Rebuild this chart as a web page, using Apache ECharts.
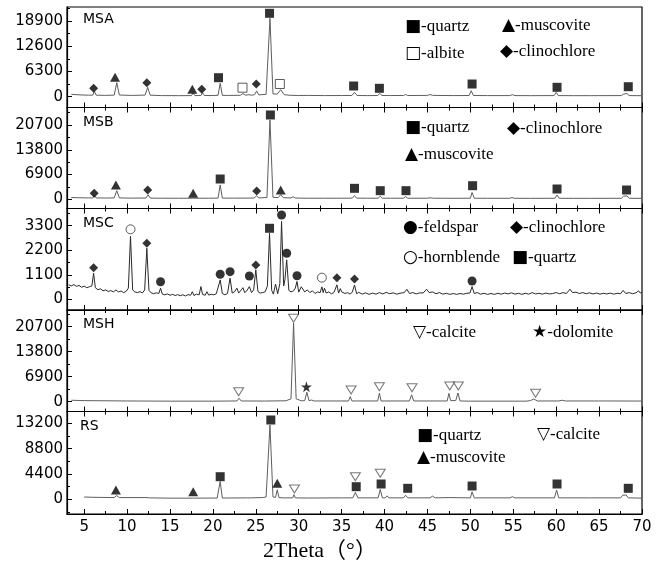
<!DOCTYPE html>
<html><head><meta charset="utf-8">
<script src="https://cdn.jsdelivr.net/npm/echarts@6/dist/echarts.min.js"></script>
<style>html,body{margin:0;padding:0;background:#fff}#c{width:666px;height:566px}</style>
</head><body><div id="c"></div>
<script>
// ---------- tick values ----------
const xTicks = [5,10,15,20,25,30,35,40,45,50,55,60,65,70];
const xMinor = [7.5,12.5,17.5,22.5,27.5,32.5,37.5,42.5,47.5,52.5,57.5,62.5,67.5];
const msaTicks = [0,6300,12600,18900];
const msaMinor = [3150,9450,15750,22050];
const msbTicks = [0,6900,13800,20700];
const msbMinor = [3450,10350,17250,24150];
const mscTicks = [0,1100,2200,3300];
const mscMinor = [550,1650,2750,3850];
const mshTicks = [0,6900,13800,20700];
const mshMinor = [3450,10350,17250,24150];
const rsTicks = [0,4400,8800,13200];
const rsMinor = [-2200,2200,6600,11000];

// ---------- diffraction curves [2theta, intensity] ----------
const msaCurve = [[3.5,600],[4.5,450],[5.5,380],[6.0,380],[6.2,1300],[6.4,380],[7.5,330],[8.5,400],[8.8,3500],[9.1,420],[10.5,320],[12.1,400],[12.4,2350],[12.7,380],[14,280],[16,260],[17.5,280],[17.7,900],[17.9,280],[18.6,300],[18.8,1000],[19.0,290],[20.0,300],[20.6,350],[20.85,3350],[21.1,330],[21.7,320],[21.9,700],[22.1,320],[23.2,350],[23.5,800],[23.8,380],[24.2,500],[24.5,380],[24.85,500],[25.1,1450],[25.35,450],[26.2,600],[26.65,19600],[27.0,700],[27.5,650],[27.9,1750],[28.3,500],[29.0,350],[30,300],[31,320],[33,280],[35,300],[36.2,300],[36.5,1100],[36.8,300],[38,280],[39.2,300],[39.45,800],[39.7,300],[40.3,300],[40.5,500],[40.7,300],[42.2,300],[42.45,550],[42.7,300],[45.0,320],[45.3,550],[45.6,330],[48,280],[49.85,300],[50.1,1500],[50.35,300],[52,280],[54.6,280],[54.9,500],[55.2,280],[57,260],[59.75,280],[60.0,1100],[60.25,280],[62,260],[64,260],[67.6,280],[67.85,650],[68.05,450],[68.25,800],[68.5,280],[70,250]];
const msbCurve = [[3.5,500],[4.5,420],[5.5,380],[6.0,380],[6.2,1000],[6.4,380],[7.5,350],[8.5,380],[8.8,2400],[9.1,380],[10.5,330],[12.2,350],[12.45,1250],[12.7,330],[14,300],[16,290],[17.6,300],[17.8,750],[18.0,300],[19.5,300],[20.6,330],[20.85,4000],[21.1,330],[22.0,320],[22.2,600],[22.4,320],[23.5,330],[24.8,350],[25.1,1000],[25.35,380],[26.3,500],[26.65,22100],[27.0,550],[27.6,450],[27.9,1300],[28.2,450],[29.1,380],[29.35,700],[29.6,350],[31,300],[33,300],[35,300],[36.25,320],[36.5,1050],[36.75,320],[38,300],[39.25,300],[39.5,850],[39.75,300],[40.3,300],[40.5,500],[40.7,300],[42.2,300],[42.45,750],[42.7,300],[44.9,300],[45.1,550],[45.3,400],[45.5,550],[45.7,300],[48,280],[50.0,300],[50.2,1900],[50.45,300],[52,280],[54.6,280],[54.85,500],[55.1,280],[57,270],[59.85,280],[60.1,1200],[60.35,280],[62,270],[64,270],[67.6,280],[67.85,850],[68.05,600],[68.25,950],[68.5,280],[70,260]];
const mscCurve = [[3.2,650],[3.5,600],[3.8,660],[4.1,580],[4.4,620],[4.7,540],[5.0,590],[5.3,520],[5.6,560],[5.9,600],[6.1,1170],[6.3,520],[6.6,430],[6.9,470],[7.2,380],[7.5,420],[7.8,350],[8.1,390],[8.4,330],[8.7,420],[9.0,330],[9.3,370],[9.6,300],[9.9,360],[10.15,500],[10.4,2820],[10.65,420],[10.9,330],[11.2,300],[11.5,340],[11.8,290],[12.05,420],[12.3,2290],[12.55,400],[12.8,290],[13.1,250],[13.4,290],[13.7,260],[13.9,500],[14.1,240],[14.4,200],[14.7,240],[15.0,180],[15.3,220],[15.6,170],[15.9,210],[16.2,160],[16.5,200],[16.8,150],[17.1,210],[17.4,180],[17.6,340],[17.8,170],[18.1,230],[18.4,200],[18.6,570],[18.8,220],[19.1,180],[19.3,340],[19.5,190],[19.8,220],[20.1,200],[20.4,250],[20.6,280],[20.85,870],[21.1,260],[21.4,200],[21.7,260],[22.0,950],[22.25,280],[22.5,330],[22.8,500],[23.0,280],[23.3,420],[23.5,520],[23.7,300],[23.95,380],[24.25,570],[24.5,300],[24.75,420],[25.0,1320],[25.25,350],[25.5,280],[25.8,300],[26.1,340],[26.35,600],[26.6,2960],[26.85,400],[27.05,230],[27.3,680],[27.55,250],[27.8,700],[28.0,3490],[28.25,600],[28.4,900],[28.6,1770],[28.85,400],[29.1,330],[29.4,380],[29.6,500],[29.8,800],[30.0,320],[30.3,560],[30.5,640],[30.7,330],[31.0,420],[31.3,300],[31.6,380],[31.9,260],[32.2,330],[32.5,300],[32.7,560],[32.85,300],[33.0,500],[33.2,280],[33.5,330],[33.8,250],[34.1,300],[34.45,650],[34.65,280],[34.85,480],[35.0,330],[35.2,380],[35.4,260],[35.7,300],[36.0,230],[36.25,330],[36.5,640],[36.75,250],[37.0,310],[37.4,230],[37.8,290],[38.2,220],[38.6,280],[39.0,230],[39.4,300],[39.8,240],[40.2,310],[40.6,250],[41.0,290],[41.4,230],[41.8,270],[42.3,300],[42.6,450],[42.9,260],[43.3,300],[43.7,240],[44.1,290],[44.5,280],[44.9,450],[45.2,300],[45.6,330],[46.0,250],[46.4,300],[46.8,230],[47.2,270],[47.6,220],[48.0,260],[48.4,220],[48.8,260],[49.2,230],[49.6,270],[49.95,280],[50.2,570],[50.45,260],[50.8,300],[51.2,230],[51.6,270],[52.0,220],[52.4,260],[52.8,220],[53.2,270],[53.6,230],[54.0,280],[54.4,240],[54.8,290],[55.2,230],[55.6,270],[56.0,220],[56.4,270],[56.8,230],[57.2,300],[57.6,240],[58.0,270],[58.4,230],[58.8,280],[59.2,240],[59.6,260],[60.0,300],[60.4,250],[60.8,300],[61.2,260],[61.6,450],[61.9,300],[62.3,320],[62.7,260],[63.1,300],[63.5,250],[63.9,290],[64.3,240],[64.7,280],[65.1,230],[65.5,270],[65.9,240],[66.3,280],[66.7,230],[67.1,270],[67.5,250],[67.8,400],[68.1,260],[68.5,300],[68.9,250],[69.3,290],[69.6,380],[69.8,280],[70.0,320]];
const mshCurve = [[3.5,400],[5,300],[10,200],[15,150],[20,150],[22.8,200],[23.05,950],[23.3,200],[26,180],[28.5,250],[29.1,800],[29.4,21700],[29.7,800],[30.3,250],[30.7,300],[30.95,2600],[31.2,300],[31.5,450],[31.8,200],[35.8,200],[36.0,1400],[36.2,200],[39.2,200],[39.4,2350],[39.6,200],[42.9,200],[43.15,1900],[43.4,200],[47.3,200],[47.5,2300],[47.7,300],[48.3,300],[48.55,2400],[48.8,200],[50,150],[56.5,150],[57.0,300],[57.4,750],[57.8,200],[60.3,200],[60.7,400],[61.1,200],[64.5,200],[64.7,400],[64.9,200],[65.5,200],[65.7,350],[65.9,200],[70,180]];
const rsCurve = [[5,400],[6,350],[8.5,300],[8.8,650],[9.1,300],[12.2,300],[12.4,450],[12.6,250],[15,200],[17.6,200],[17.8,350],[18,200],[20.5,220],[20.85,3100],[21.1,220],[24,250],[24.2,450],[24.4,250],[25.8,300],[26.0,450],[26.2,400],[26.65,12900],[27.0,400],[27.3,350],[27.5,1650],[27.7,300],[28.2,250],[29.3,250],[29.45,800],[29.6,250],[31,220],[34.8,250],[35.0,450],[35.2,250],[36.3,250],[36.6,1200],[36.9,250],[39.25,250],[39.5,1700],[39.75,250],[40.1,250],[40.3,600],[40.5,250],[42.2,250],[42.45,700],[42.7,250],[45.3,250],[45.6,550],[45.9,250],[47.5,300],[50,250],[50.2,1300],[50.45,250],[54.6,250],[54.9,450],[55.2,250],[59.8,250],[60.05,1600],[60.3,250],[63.7,250],[63.9,400],[64.1,250],[67.5,250],[67.75,700],[67.95,450],[68.15,750],[68.4,250],[70,200]];

// ---------- phase markers [2theta, intensity] ----------
const msaQuartz = [[20.65,4750],[26.6,20850],[36.4,2675],[39.4,2100],[50.2,3175],[60.1,2350],[68.4,2500]];
const msaMuscovite = [[8.6,4850],[17.6,1850]];
const msaAlbite = [[23.45,2250],[27.8,3175]];
const msaClinochlore = [[6.1,2100],[12.3,3500],[18.7,1850],[25.05,3175]];

const msbQuartz = [[20.85,5650],[26.7,23490],[36.5,3060],[39.5,2400],[42.5,2400],[50.26,3790],[60.1,2870],[68.2,2590]];
const msbMuscovite = [[8.7,3980],[17.7,1670],[27.9,2590]];
const msbClinochlore = [[6.17,1670],[12.4,2590],[25.1,2310]];

const mscFeldspar = [[13.9,789],[20.85,1121],[22.0,1238],[24.25,1045],[28.0,3780],[28.6,2063],[29.8,1058],[50.2,820]];
const mscClinochlore = [[6.1,1417],[12.3,2511],[25.0,1538],[34.45,969],[36.5,910]];
const mscHornblende = [[10.4,3139],[32.7,969]];
const mscQuartz = [[26.6,3184]];

const mshCalcite = [[23.0,2760],[29.4,23020],[36.1,3230],[39.4,4140],[43.2,3860],[47.6,4330],[48.6,4330],[57.6,2320]];
const mshDolomite = [[30.9,4140]];

const rsQuartz = [[20.85,3925],[26.75,13774],[36.7,2190],[39.6,2658],[42.7,1910],[50.2,2310],[60.1,2658],[68.4,1910]];
const rsMuscovite = [[8.7,1615],[17.7,1320],[27.5,2780]];
const rsCalcite = [[29.5,1790],[36.6,3925],[39.5,4516]];

// ---------- text ----------
const sampleNames = ['MSA','MSB','MSC','MSH','RS'];
const axisTitle = '2Theta（°）';

// ---------- styles ----------
const STAR = 'path://M50,0 L61,35 L98,35 L68,57 L79,91 L50,70 L21,91 L32,57 L2,35 L39,35 Z';
const markStyle = {
  quartz:      {symbol:'rect', size:9, item:{color:'#000'}},
  muscovite:   {symbol:'triangle', size:[10,9], item:{color:'#000'}},
  albite:      {symbol:'rect', size:9, item:{color:'#fff', borderColor:'#333', borderWidth:1}},
  clinochlore: {symbol:'diamond', size:[9,9], item:{color:'#000'}},
  feldspar:    {symbol:'circle', size:9, item:{color:'#000'}},
  hornblende:  {symbol:'circle', size:9, item:{color:'#fff', borderColor:'#333', borderWidth:1}},
  calcite:     {symbol:'triangle', size:[10,8], rotate:180, item:{color:'#fff', borderColor:'#555', borderWidth:1}},
  dolomite:    {symbol:STAR, size:11, item:{color:'#000'}}
};

const panels = [
  {curve:msaCurve, color:'#5e5e5e', yMin:-2700, yMax:22425, ticks:msaTicks, minor:msaMinor,
   marks:[[msaQuartz,'quartz'],[msaMuscovite,'muscovite'],[msaAlbite,'albite'],[msaClinochlore,'clinochlore']]},
  {curve:msbCurve, color:'#5e5e5e', yMin:-2563, yMax:25576, ticks:msbTicks, minor:msbMinor,
   marks:[[msbQuartz,'quartz'],[msbMuscovite,'muscovite'],[msbClinochlore,'clinochlore']]},
  {curve:mscCurve, color:'#2a2a2a', yMin:-480, yMax:4071, ticks:mscTicks, minor:mscMinor,
   marks:[[mscFeldspar,'feldspar'],[mscClinochlore,'clinochlore'],[mscHornblende,'hornblende'],[mscQuartz,'quartz']]},
  {curve:mshCurve, color:'#5e5e5e', yMin:-2705, yMax:25309, ticks:mshTicks, minor:mshMinor,
   marks:[[mshCalcite,'calcite'],[mshDolomite,'dolomite']]},
  {curve:rsCurve, color:'#5e5e5e', yMin:-2553, yMax:15251, ticks:rsTicks, minor:rsMinor,
   marks:[[rsQuartz,'quartz'],[rsMuscovite,'muscovite'],[rsCalcite,'calcite']]}
];

const tops = [7, 107.5, 208.5, 310, 411.5];
const heights = [100.5, 101, 101.5, 101.5, 102.5];
const LEFT = 67, RIGHT = 24;
const labelFont = 'DejaVu Sans';
const plain = v => String(v);

const grid = [], xAxis = [], yAxis = [], series = [];
panels.forEach((p, i) => {
  grid.push({left:LEFT, right:RIGHT, top:tops[i], height:heights[i], show:true,
    borderColor:'#000', borderWidth:1.2, backgroundColor:'transparent', containLabel:false, outerBoundsMode:'none'});
  const xi = xAxis.length;
  const baseX = {gridIndex:i, type:'value', min:3, max:70, splitLine:{show:false}};
  xAxis.push(Object.assign({}, baseX, {position:'bottom',
    axisLine:{show:true, onZero:false, lineStyle:{color:'#000', width:1.2}},
    axisTick:{show:true, inside:true, length:5, customValues:xTicks, lineStyle:{color:'#000', width:1}},
    axisLabel:{show:i===4, customValues:xTicks, formatter:plain, margin:6, fontSize:15, fontFamily:labelFont, color:'#000'}}));
  xAxis.push(Object.assign({}, baseX, {position:'bottom',
    axisLine:{show:false, onZero:false},
    axisTick:{show:true, inside:true, length:3, customValues:xMinor, lineStyle:{color:'#000', width:1}},
    axisLabel:{show:false}}));
  if (i > 0) {
    xAxis.push(Object.assign({}, baseX, {position:'top',
      axisLine:{show:false, onZero:false},
      axisTick:{show:true, inside:true, length:5, customValues:xTicks, lineStyle:{color:'#000', width:1}},
      axisLabel:{show:false}}));
    xAxis.push(Object.assign({}, baseX, {position:'top',
      axisLine:{show:false, onZero:false},
      axisTick:{show:true, inside:true, length:3, customValues:xMinor, lineStyle:{color:'#000', width:1}},
      axisLabel:{show:false}}));
  }
  const yi = yAxis.length;
  const baseY = {gridIndex:i, type:'value', min:p.yMin, max:p.yMax, position:'left', splitLine:{show:false}};
  yAxis.push(Object.assign({}, baseY, {
    axisLine:{show:true, onZero:false, lineStyle:{color:'#000', width:1.2}},
    axisTick:{show:true, inside:true, length:5, customValues:p.ticks, lineStyle:{color:'#000', width:1}},
    axisLabel:{show:true, customValues:p.ticks, formatter:plain, margin:4, fontSize:15, fontFamily:labelFont, color:'#000'}}));
  yAxis.push(Object.assign({}, baseY, {
    axisLine:{show:false, onZero:false},
    axisTick:{show:true, inside:true, length:3, customValues:p.minor, lineStyle:{color:'#000', width:1}},
    axisLabel:{show:false}}));

  series.push({type:'line', xAxisIndex:xi, yAxisIndex:yi, data:p.curve, showSymbol:false, symbol:'none',
    lineStyle:{color:p.color, width:1}, silent:true, animation:false, z:2});
  p.marks.forEach(([data, phase]) => {
    const s = markStyle[phase];
    series.push({type:'scatter', xAxisIndex:xi, yAxisIndex:yi, data:data, symbol:s.symbol,
      symbolSize:s.size, symbolRotate:s.rotate || 0, itemStyle:s.item, silent:true, animation:false, z:3});
  });
});

// graphic texts
const graphic = [];
const nameY = [20, 123, 224, 325, 427];
const nameX = [83, 83, 83, 83, 80];
sampleNames.forEach((n, i) => graphic.push({type:'text', left:nameX[i], top:nameY[i]-8,
  style:{text:n, font:'14px "DejaVu Sans"', fill:'#000'}}));

const legendItems = [
  ['■', '-quartz', 405, 27], ['▲', '-muscovite', 502, 26], ['□', '-albite', 405, 54], ['◆', '-clinochlore', 500, 52],
  ['■', '-quartz', 405, 128], ['◆', '-clinochlore', 507, 129], ['▲', '-muscovite', 405, 155],
  ['●', '-feldspar', 403, 228], ['◆', '-clinochlore', 510, 228], ['○', '-hornblende', 403, 258], ['■', '-quartz', 512, 258],
  ['▽', '-calcite', 413, 333], ['★', '-dolomite', 532, 333],
  ['■', '-quartz', 417, 436], ['▽', '-calcite', 537, 435], ['▲', '-muscovite', 417, 458]
];
legendItems.forEach(([sym, t, x, y]) => graphic.push({type:'text', x:x, y:y,
  style:{text:'{s|' + sym + '}{t|' + t + '}', verticalAlign:'middle', textVerticalAlign:'middle',
    rich:{
      s:{fontFamily:'DejaVu Sans', fontSize:17, fill:'#000', color:'#000'},
      t:{fontFamily:'Liberation Serif', fontSize:17, fill:'#000', color:'#000'}
    }}}));

graphic.push({type:'text', x:263, y:551, style:{text:axisTitle,
  font:'22px "Liberation Serif", "Noto Sans CJK SC", serif', fill:'#000', textVerticalAlign:'middle', verticalAlign:'middle'}});

const chart = echarts.init(document.getElementById('c'), null, {renderer:'canvas'});
chart.setOption({animation:false, backgroundColor:'#fff', grid, xAxis, yAxis, series, graphic});
</script>
</body></html>
